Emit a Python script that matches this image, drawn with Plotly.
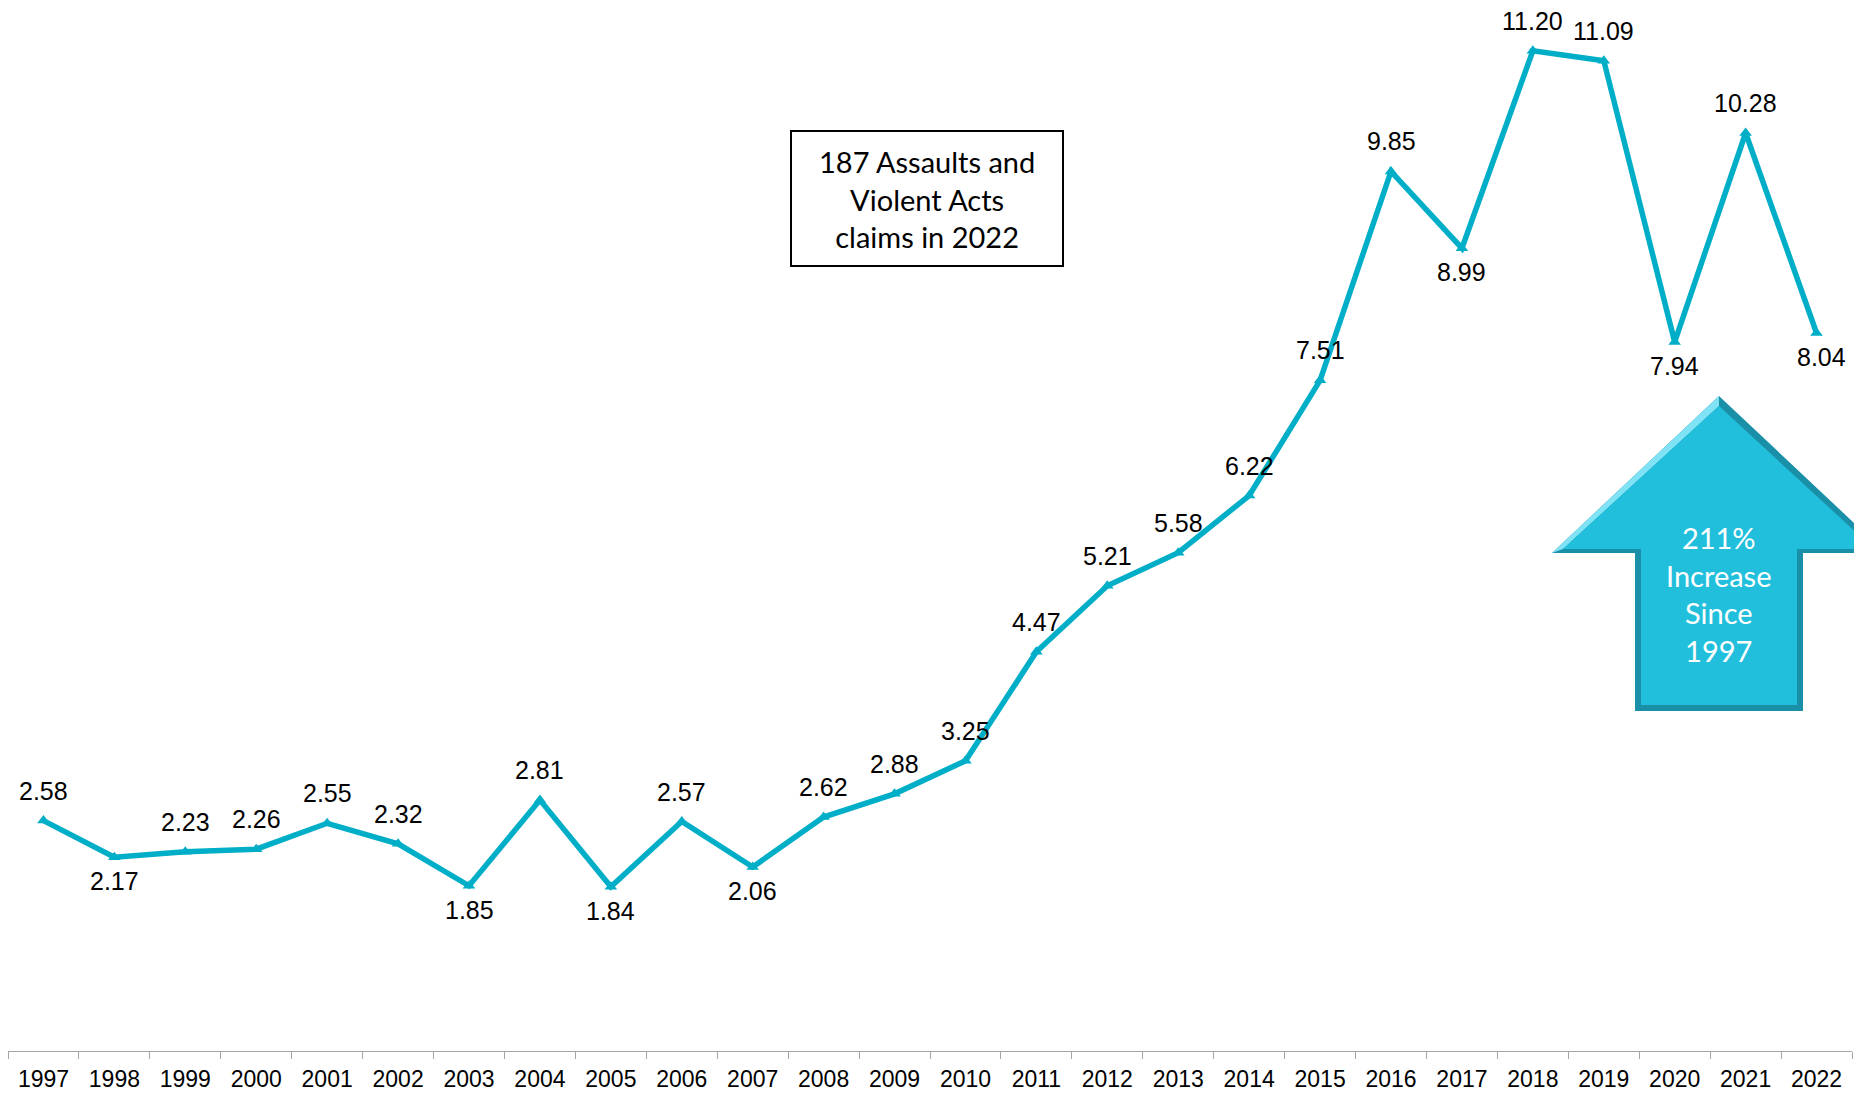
import plotly.graph_objects as go

# // data
years = [str(y) for y in range(1997, 2023)]
rates = [2.58, 2.17, 2.23, 2.26, 2.55, 2.32, 1.85, 2.81, 1.84, 2.57, 2.06, 2.62, 2.88,
         3.25, 4.47, 5.21, 5.58, 6.22, 7.51, 9.85, 8.99, 11.20, 11.09, 7.94, 10.28, 8.04]
label_side = ["up", "down", "up", "up", "up", "up", "down", "up", "down", "up", "down", "up", "up",
              "up", "up", "up", "up", "up", "up", "up", "down", "up", "up", "down", "up", "down"]
box_text = "187 Assaults and<br>Violent Acts<br>claims in 2022"
arrow_text = "211%<br>Increase<br>Since<br>1997"

# // canvas geometry (pixels); the page body adds an 8px offset
OFF = 8
W, H = 1862 - OFF, 1094 - OFF
ml, mr, mt, mb = 0, 10, 0, 43
pw, ph = W - ml - mr, H - mt - mb
line_color = "#00AEC7"


def px(x):
    # screen pixel -> paper x
    return (x - OFF - ml) / pw


def py(y):
    # screen pixel -> paper y
    return (H - mb - (y - OFF)) / ph


def path(points):
    return "M " + " L ".join(f"{px(x):.5f},{py(y):.5f}" for x, y in points) + " Z"


fig = go.Figure()
fig.add_trace(go.Scatter(
    x=years, y=rates,
    mode="lines+markers",
    line=dict(color=line_color, width=5.5),
    marker=dict(symbol="triangle-up", size=11, color=line_color),
    hoverinfo="x+y",
    showlegend=False))

# // data labels (x as category index)
for i, (v, side) in enumerate(zip(rates, label_side)):
    fig.add_annotation(
        x=i, y=v, text=f"{v:.2f}", showarrow=False,
        xanchor="center", yanchor="middle",
        yshift=30 if side == "up" else -24,
        xshift=5 if i == len(rates) - 1 else 0,
        font=dict(family="Liberation Sans, Arial", size=25, color="black"))

# // text box
fig.add_shape(type="rect", xref="paper", yref="paper",
              x0=px(791), x1=px(1063), y0=py(266), y1=py(131),
              line=dict(color="black", width=2), fillcolor="white", layer="above")
fig.add_annotation(xref="paper", yref="paper", x=px(927), y=py(199),
                   xanchor="center", yanchor="middle",
                   text=box_text, showarrow=False, align="center",
                   font=dict(family="Lato", size=29, color="black"))

# // arrow with a simple bevel
outer = [(1719, 396), (1886, 553), (1803, 553), (1803, 711), (1635, 711), (1635, 553), (1552, 553)]
inner = [(1719, 406), (1874, 549), (1797, 549), (1797, 705), (1641, 705), (1641, 549), (1563, 549)]
fig.add_shape(type="path", xref="paper", yref="paper", path=path(outer),
              fillcolor="#1A8FA8", line=dict(width=0), layer="above")
fig.add_shape(type="path", xref="paper", yref="paper",
              path=path([(1719, 396), (1552, 553), (1563, 549), (1719, 406)]),
              fillcolor="#7FE3F5", line=dict(width=0), layer="above")
fig.add_shape(type="path", xref="paper", yref="paper", path=path(inner),
              fillcolor="#22BFDD", line=dict(width=0), layer="above")
fig.add_annotation(xref="paper", yref="paper", x=px(1719), y=py(594),
                   xanchor="center", yanchor="middle",
                   text=arrow_text, showarrow=False, align="center",
                   font=dict(family="Lato", size=29, color="white"))

fig.update_xaxes(
    type="category", tickson="boundaries", range=[-0.5, len(years) - 0.5],
    ticks="outside", ticklen=7, tickcolor="#A6A6A6", tickwidth=1,
    showline=True, linecolor="#A6A6A6", linewidth=1, tickangle=0,
    showgrid=False, zeroline=False, ticklabelstandoff=7,
    tickfont=dict(family="Liberation Sans Narrow, Liberation Sans, Arial", size=23, color="black"))
fig.update_yaxes(range=[0, (1051 - OFF) / 89.3], visible=False, showgrid=False, zeroline=False)

fig.update_layout(
    width=W, height=H,
    margin=dict(l=ml, r=mr, t=mt, b=mb),
    plot_bgcolor="white", paper_bgcolor="white",
    showlegend=False)

fig.write_html("out.html")
